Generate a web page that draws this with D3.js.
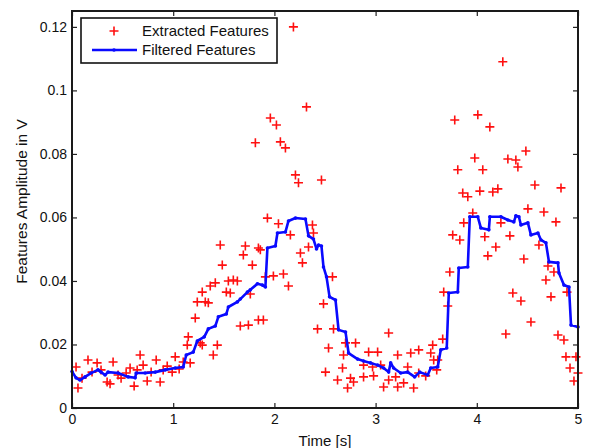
<!DOCTYPE html>
<html>
<head>
<meta charset="utf-8">
<script src="https://cdn.jsdelivr.net/npm/d3@7"></script>
<style>
  html, body { margin: 0; padding: 0; background: #fff; }
  svg text { font-family: "Liberation Sans", Arial, Helvetica, sans-serif; fill: #111; }
</style>
</head>
<body>
<svg id="chart" width="589" height="448"></svg>
<script>
// Extracted feature samples: time [s] and amplitude [V]
const extractedT = [
  0.040, 0.059, 0.099, 0.158, 0.198, 0.248, 0.287, 0.347, 0.376, 0.406,
  0.455, 0.485, 0.535, 0.574, 0.614, 0.644, 0.673, 0.703, 0.743, 0.782,
  0.832, 0.871, 0.901, 0.941, 0.990, 1.020, 1.059, 1.099, 1.139, 1.149, 1.168,
  1.218, 1.238, 1.317, 1.347, 1.267, 1.287, 1.396, 1.436, 1.287, 1.366,
  1.416, 1.525, 1.564, 1.545, 1.594, 1.634, 1.465, 1.485, 1.693, 1.713,
  1.762, 1.782, 1.842, 1.861, 1.663, 1.743, 1.842, 1.891, 1.911, 1.990,
  2.089, 2.139, 1.931, 2.040, 2.158, 2.257, 2.277, 2.337, 2.376, 2.386,
  2.426, 2.485, 2.574, 2.584, 2.535,
  2.188, 2.317, 1.960, 2.020, 1.812, 2.059, 2.109, 2.208, 2.238, 2.465,
  3.129, 2.703, 2.802, 2.931, 3.020, 3.218, 3.426, 3.564, 3.663, 3.673,
  3.713, 2.683, 2.673, 2.505, 2.881, 2.970, 3.050, 3.347, 3.317, 3.545,
  3.574, 2.624, 2.752, 2.782, 2.881, 2.980, 3.129, 3.198, 3.277, 3.426,
  3.614, 3.495, 3.079, 3.218, 3.376, 2.723, 3.604,
  3.733, 3.762, 3.832, 3.871, 3.960, 3.861, 3.911, 4.030, 4.158, 4.208,
  4.079, 4.109, 4.188, 4.238, 4.327, 4.356, 4.436, 4.465, 4.505, 4.535,
  4.287, 4.614, 4.663, 4.703, 4.683, 4.733, 4.762, 4.782, 4.802, 4.861,
  4.891, 4.881, 4.980, 4.921, 5.000, 4.960,
  4.257, 3.782, 4.010, 4.129, 4.485, 3.980, 4.307, 4.386, 4.406, 3.812,
  4.059, 4.574, 4.832
];
const extractedV = [
  0.0129, 0.0063, 0.0094, 0.0151, 0.0113, 0.0142, 0.0120, 0.0082, 0.0076, 0.0145,
  0.0104, 0.0094, 0.0110, 0.0126, 0.0069, 0.0120, 0.0167, 0.0135, 0.0085, 0.0113,
  0.0151, 0.0082, 0.0120, 0.0132, 0.0113, 0.0161, 0.0123, 0.0145, 0.0198, 0.0224, 0.0142,
  0.0283, 0.0334, 0.0334, 0.0331, 0.0205, 0.0198, 0.0167, 0.0198, 0.0365, 0.0384,
  0.0394, 0.0365, 0.0362, 0.0400, 0.0403, 0.0400, 0.0513, 0.0450, 0.0482, 0.0510,
  0.0359, 0.0450, 0.0504, 0.0498, 0.0258, 0.0261, 0.0277, 0.0277, 0.0413, 0.0416,
  0.0422, 0.0384, 0.0598, 0.0580, 0.0545, 0.0488, 0.0457, 0.0507, 0.0576, 0.0551,
  0.0249, 0.0328, 0.0413, 0.0249, 0.0189,
  0.1200, 0.0948, 0.0913, 0.0891, 0.0835, 0.0838, 0.0819, 0.0734, 0.0709, 0.0718,
  0.0236, 0.0205, 0.0205, 0.0176, 0.0176, 0.0167, 0.0183, 0.0198, 0.0217, 0.0365,
  0.0321, 0.0167, 0.0126, 0.0113, 0.0135, 0.0129, 0.0135, 0.0173, 0.0129, 0.0173,
  0.0151, 0.0088, 0.0094, 0.0082, 0.0098, 0.0101, 0.0088, 0.0098, 0.0079, 0.0110,
  0.0151, 0.0101, 0.0066, 0.0066, 0.0063, 0.0063, 0.0120,
  0.0428, 0.0545, 0.0529, 0.0583, 0.0614, 0.0677, 0.0665, 0.0683, 0.0680, 0.0690,
  0.0539, 0.0479, 0.0507, 0.0583, 0.0542, 0.0362, 0.0337, 0.0469, 0.0627, 0.0271,
  0.0233, 0.0513, 0.0617, 0.0447, 0.0403, 0.0350, 0.0428, 0.0586, 0.0230, 0.0214,
  0.0365, 0.0161, 0.0161, 0.0126, 0.0110, 0.0085,
  0.1090, 0.0907, 0.0923, 0.0885, 0.0809, 0.0787, 0.0784, 0.0781, 0.0759, 0.0750,
  0.0750, 0.0702, 0.0693
];

// Filtered (smoothed) feature trace
const filteredT = [
  0.000, 0.040, 0.079, 0.129, 0.188, 0.257, 0.287, 0.327, 0.356, 0.455,
  0.554, 0.624, 0.634, 0.723, 0.822, 0.921, 1.020, 1.099, 1.129, 1.198,
  1.238, 1.307, 1.347, 1.416, 1.446, 1.525, 1.545, 1.634, 1.663, 1.733,
  1.762, 1.832, 1.881, 1.911, 1.931, 2.010, 2.030, 2.109, 2.139, 2.208,
  2.307, 2.337, 2.386, 2.416, 2.436, 2.465, 2.485, 2.515, 2.545, 2.604,
  2.634, 2.703, 2.733, 2.822, 2.881, 2.950, 3.020, 3.079, 3.129, 3.149,
  3.178, 3.248, 3.317, 3.386, 3.436, 3.515, 3.545, 3.614, 3.644, 3.703,
  3.723, 3.812, 3.822, 3.911, 3.931, 4.010, 4.040, 4.119, 4.129, 4.238,
  4.307, 4.366, 4.386, 4.416, 4.436, 4.505, 4.535, 4.604, 4.634, 4.683,
  4.713, 4.802, 4.812, 4.861, 4.911, 4.931, 5.000
];
const filteredV = [
  0.0115, 0.0095, 0.0088, 0.0098, 0.0110, 0.0120, 0.0113, 0.0104, 0.0113, 0.0110,
  0.0098, 0.0095, 0.0110, 0.0110, 0.0113, 0.0120, 0.0126, 0.0129, 0.0167, 0.0176,
  0.0211, 0.0224, 0.0249, 0.0258, 0.0287, 0.0296, 0.0318, 0.0334, 0.0343, 0.0365,
  0.0372, 0.0391, 0.0387, 0.0381, 0.0504, 0.0510, 0.0551, 0.0554, 0.0589, 0.0598,
  0.0595, 0.0542, 0.0532, 0.0501, 0.0513, 0.0510, 0.0444, 0.0413, 0.0350, 0.0340,
  0.0246, 0.0239, 0.0173, 0.0154, 0.0148, 0.0142, 0.0135, 0.0126, 0.0113, 0.0142,
  0.0126, 0.0110, 0.0113, 0.0098, 0.0113, 0.0104, 0.0126, 0.0129, 0.0183, 0.0189,
  0.0362, 0.0365, 0.0441, 0.0444, 0.0602, 0.0602, 0.0567, 0.0561, 0.0602, 0.0602,
  0.0592, 0.0586, 0.0605, 0.0602, 0.0576, 0.0583, 0.0545, 0.0551, 0.0529, 0.0520,
  0.0460, 0.0457, 0.0425, 0.0387, 0.0381, 0.0261, 0.0255
];

const xTicks = [0, 1, 2, 3, 4, 5];
const yTicks = [0, 0.02, 0.04, 0.06, 0.08, 0.1, 0.12];
const yTickLabels = ["0", "0.02", "0.04", "0.06", "0.08", "0.1", "0.12"];
const seriesNames = ["Extracted Features", "Filtered Features"];

const svg = d3.select("#chart");
const margin = { left: 72, right: 11, top: 11, bottom: 40 };
const W = 589, H = 448;
const x = d3.scaleLinear().domain([0, 5]).range([margin.left, W - margin.right]);
const y = d3.scaleLinear().domain([0, 0.125]).range([H - margin.bottom, margin.top]);

const plot = svg.append("g");

// Extracted features: red "+" markers
const plusPath = s => `M${-s},0H${s}M0,${-s}V${s}`;
plot.append("g").selectAll("path")
  .data(d3.range(extractedT.length))
  .join("path")
  .attr("transform", i => `translate(${x(extractedT[i])},${y(extractedV[i])})`)
  .attr("d", plusPath(4.5))
  .attr("stroke", "#ff1010")
  .attr("stroke-width", 1.6)
  .attr("fill", "none");

// Filtered features: blue line with point markers
const filtered = filteredT.map((t, i) => [t, filteredV[i]]);
const line = d3.line().x(d => x(d[0])).y(d => y(d[1]));
plot.append("path")
  .datum(filtered)
  .attr("d", line)
  .attr("fill", "none")
  .attr("stroke", "#0a0aff")
  .attr("stroke-width", 2.6)
  .attr("stroke-linejoin", "round");
plot.append("g").selectAll("circle")
  .data(filtered)
  .join("circle")
  .attr("cx", d => x(d[0]))
  .attr("cy", d => y(d[1]))
  .attr("r", 1.8)
  .attr("fill", "#0a0aff");

// Axes with inward ticks on all four sides
const axisStyle = g => {
  g.select(".domain").remove();
  g.selectAll(".tick line").attr("stroke", "#222").attr("stroke-width", 1.2);
  g.selectAll(".tick text").attr("font-size", 14).attr("fill", "#222")
    .attr("font-family", "Liberation Sans, Arial, sans-serif");
};
svg.append("g").attr("transform", `translate(0,${y(0)})`)
  .call(d3.axisBottom(x).tickValues(xTicks).tickFormat(d3.format("d")).tickSizeInner(-5).tickPadding(6))
  .call(axisStyle);
svg.append("g").attr("transform", `translate(0,${y(0.125)})`)
  .call(d3.axisTop(x).tickValues(xTicks).tickFormat("").tickSizeInner(-5))
  .call(axisStyle);
svg.append("g").attr("transform", `translate(${x(0)},0)`)
  .call(d3.axisLeft(y).tickValues(yTicks).tickFormat((d, i) => yTickLabels[i]).tickSizeInner(-5).tickPadding(5))
  .call(axisStyle);
svg.append("g").attr("transform", `translate(${x(5)},0)`)
  .call(d3.axisRight(y).tickValues(yTicks).tickFormat("").tickSizeInner(-5))
  .call(axisStyle);

// Plot frame
svg.append("rect")
  .attr("x", x(0)).attr("y", y(0.125))
  .attr("width", x(5) - x(0)).attr("height", y(0) - y(0.125))
  .attr("fill", "none").attr("stroke", "#1a1a1a").attr("stroke-width", 2);

// Axis titles
svg.append("text")
  .attr("x", (x(0) + x(5)) / 2).attr("y", 446)
  .attr("text-anchor", "middle").attr("font-size", 15)
  .text("Time [s]");
svg.append("text")
  .attr("transform", `translate(27,${(y(0) + y(0.125)) / 2 - 8}) rotate(-90)`)
  .attr("text-anchor", "middle").attr("font-size", 15.5)
  .text("Features Amplitude in V");

// Legend
const legend = svg.append("g").attr("transform", "translate(81,18)");
legend.append("rect").attr("width", 196).attr("height", 45)
  .attr("fill", "#fff").attr("stroke", "#111").attr("stroke-width", 1.6);
legend.append("path").attr("transform", "translate(33,13)")
  .attr("d", plusPath(4.5)).attr("stroke", "#ff1010").attr("stroke-width", 1.6);
legend.append("line").attr("x1", 11).attr("x2", 56).attr("y1", 32).attr("y2", 32)
  .attr("stroke", "#0a0aff").attr("stroke-width", 2.4);
legend.append("circle").attr("cx", 33).attr("cy", 32).attr("r", 1.8).attr("fill", "#0a0aff");
legend.selectAll("text.lg").data(seriesNames).join("text")
  .attr("class", "lg")
  .attr("x", 61).attr("y", (d, i) => 18 + i * 19)
  .attr("font-size", 15)
  .text(d => d);
</script>
</body>
</html>
